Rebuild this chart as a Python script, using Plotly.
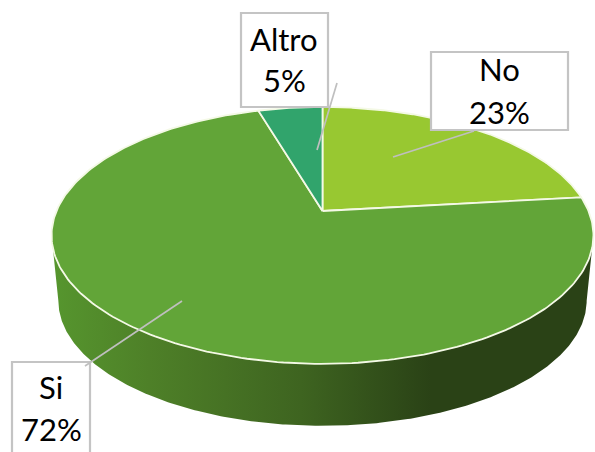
import numpy as np
import plotly.graph_objects as go

# ---- data (clockwise from the top) ----
categories = ["No", "Si", "Altro"]
values = [23.2, 72.2, 4.6]
slice_colors = ["#98c831", "#62a538", "#31a46c"]

# label boxes (paper pixels): left, right, top, bottom
label_boxes = {"No": (431, 568, 52, 130), "Si": (12, 90, 362, 470), "Altro": (241, 328, 13, 107)}
label_centers = {"No": (499, 69, 111.5), "Si": (51, 387, 429), "Altro": (284, 39, 80)}
leaders = {"No": ((474, 131), (393, 157)), "Si": ((85, 366), (182, 301)), "Altro": ((337, 83), (317, 150))}

# perspective disc geometry
CX, CY = 322.5, 211.0
A, B, K = 266.0, 123.8, 0.19
DEPTH, SHRINK = 65.8, 0.975
WALL_SCALE = [[0.0, "#56962e"], [0.18, "#4e8028"], [0.46, "#3e6420"], [0.70, "#2a4216"], [1.0, "#2a4216"]]


def rim(theta_deg, top=True):
    t = np.radians(theta_deg)
    w = 1 + K * np.cos(t)
    s, d = (1.0, 0.0) if top else (SHRINK, DEPTH)
    return CX + s * A * np.sin(t) / w, CY + d - s * B * np.cos(t) / w


fig = go.Figure()

# side wall with a left-to-right gradient
arc = np.linspace(101, 259, 300)
tx, ty = rim(arc)
bx, by = rim(arc[::-1], False)
fig.add_trace(go.Scatter(x=np.r_[tx, bx, tx[0]], y=np.r_[ty, by, ty[0]], mode="lines", fill="toself",
                         fillgradient=dict(type="horizontal", colorscale=WALL_SCALE),
                         line=dict(width=0), hoverinfo="skip", showlegend=False))

# top face
start = 0.0
total = sum(values)
for name, val, col in zip(categories, values, slice_colors):
    end = start + val / total * 360
    th = np.linspace(start, end, 240)
    ax, ay = rim(th)
    fig.add_trace(go.Scatter(x=np.r_[CX, ax, CX], y=np.r_[CY, ay, CY], mode="lines", fill="toself",
                             fillcolor=col, line=dict(color="#f4f9e6", width=1.8),
                             name=name, hoverinfo="name", showlegend=False))
    start = end

shapes = []
for name in categories:
    l, r, t, b = label_boxes[name]
    shapes.append(dict(type="rect", xref="x", yref="y", x0=l, x1=r, y0=t, y1=b, layer="above",
                       fillcolor="white", line=dict(color="#c4c4c4", width=2.2)))
for name in categories:
    (x0, y0), (x1, y1) = leaders[name]
    shapes.append(dict(type="line", xref="x", yref="y", x0=x0, y0=y0, x1=x1, y1=y1, layer="above",
                       line=dict(color="#bfbfbf", width=1.7)))

annotations = []
for name, val in zip(categories, values):
    cx, y1, y2 = label_centers[name]
    for txt, yy in ((name, y1), (f"{round(val)}%", y2)):
        annotations.append(dict(x=cx, y=yy, xref="x", yref="y", text=txt, showarrow=False,
                                xanchor="center", yanchor="middle",
                                font=dict(family="Lato", size=31, color="#000000")))

fig.update_layout(
    width=595, height=452, margin=dict(l=0, r=0, t=0, b=0),
    paper_bgcolor="white", plot_bgcolor="white", showlegend=False,
    xaxis=dict(range=[0, 595], visible=False, fixedrange=True),
    yaxis=dict(range=[452, 0], visible=False, fixedrange=True),
    shapes=shapes, annotations=annotations,
)
fig.write_html("out.html", config=dict(displayModeBar=False),
               post_script="document.body.style.margin='0';document.body.style.overflow='hidden';")
